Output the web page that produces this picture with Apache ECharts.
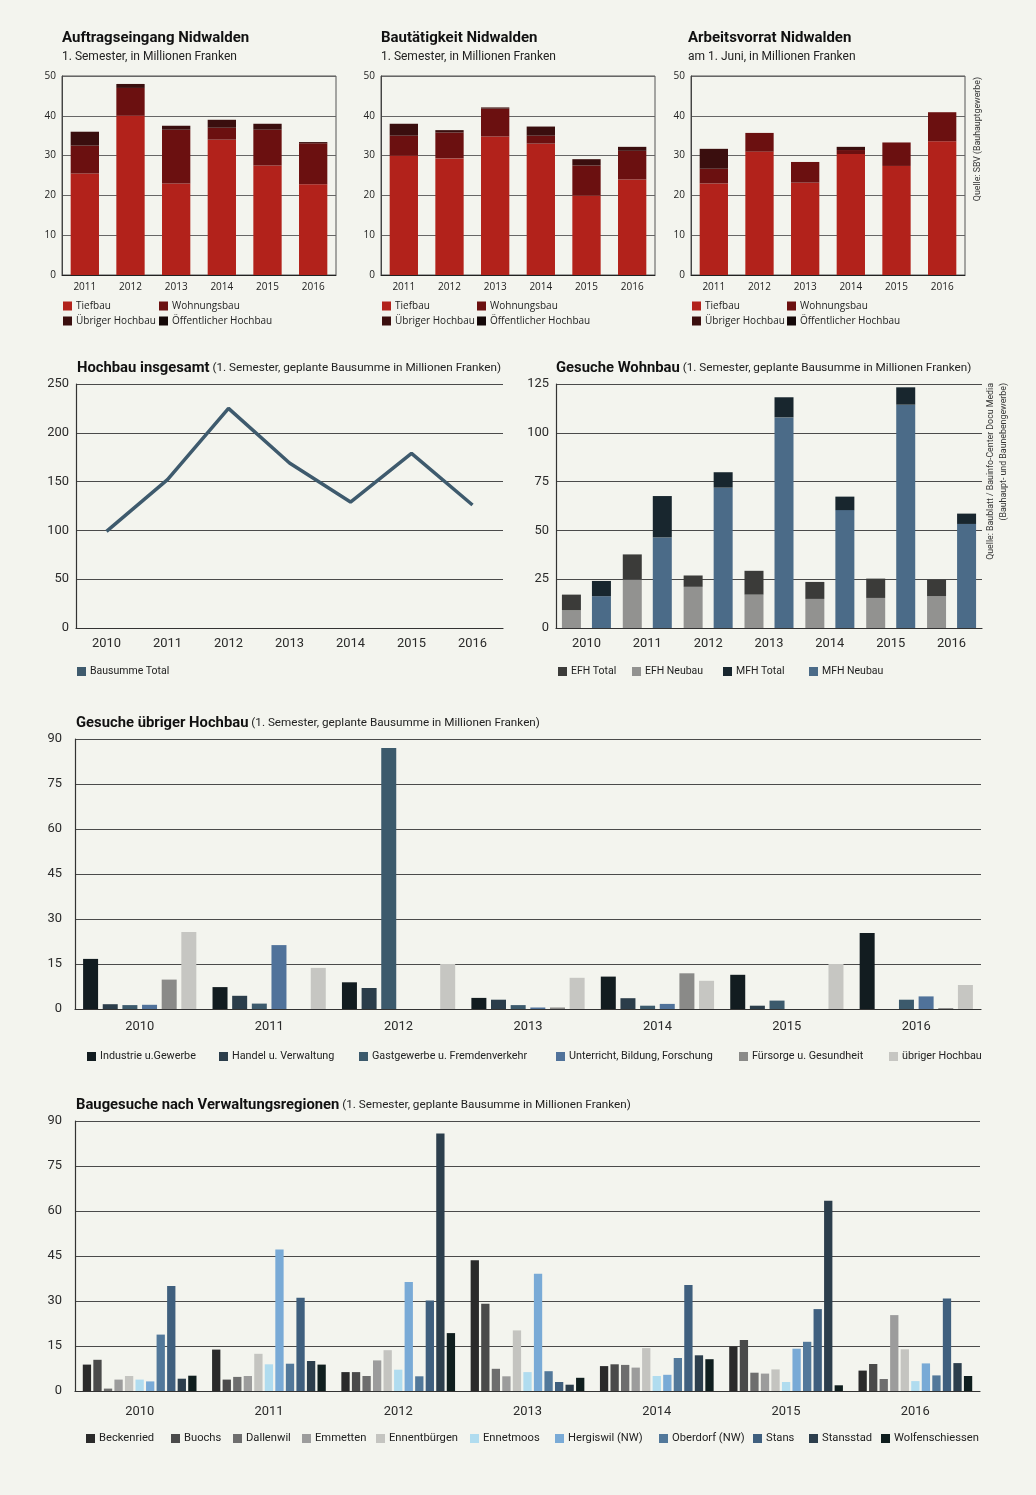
<!DOCTYPE html>
<html>
<head>
<meta charset="utf-8">
<script src="https://cdn.jsdelivr.net/npm/echarts@6/dist/echarts.min.js"></script>
<style>
html,body{margin:0;padding:0;background:#f3f4ee;}
#c{width:1036px;height:1495px;}
</style>
</head>
<body>
<div id="c"></div>
<script>
// ---------- DATA ----------
const topYears = ['2011','2012','2013','2014','2015','2016'];
const topSeriesNames = ['Tiefbau','Wohnungsbau','Übriger Hochbau','Öffentlicher Hochbau'];

const auftragTiefbau = [25.5, 40.0, 23.0, 34.0, 27.5, 22.8];
const auftragWohnungsbau = [7.0, 7.0, 13.5, 3.0, 9.0, 10.3];
const auftragUebrigerHochbau = [3.5, 1.0, 1.0, 2.0, 1.5, 0.3];
const auftragOeffentlicherHochbau = [0, 0, 0, 0, 0, 0];

const bauTiefbau = [30.0, 29.3, 34.8, 33.0, 20.0, 24.0];
const bauWohnungsbau = [5.0, 6.5, 7.0, 2.0, 7.5, 7.2];
const bauUebrigerHochbau = [3.0, 0.6, 0.3, 2.3, 1.6, 1.0];
const bauOeffentlicherHochbau = [0, 0, 0, 0, 0, 0];

const vorratTiefbau = [23.0, 31.0, 23.2, 30.4, 27.4, 33.6];
const vorratWohnungsbau = [3.7, 4.7, 5.2, 1.0, 5.9, 7.3];
const vorratUebrigerHochbau = [5.0, 0, 0, 0.8, 0, 0];
const vorratOeffentlicherHochbau = [0, 0, 0, 0, 0, 0];

const years = ['2010','2011','2012','2013','2014','2015','2016'];
const hochbauTotal = [99, 152, 225, 169, 129, 179, 126];

const efhTotal = [17.1, 37.7, 26.9, 29.3, 23.6, 25.3, 24.7];
const efhNeubau = [9.1, 24.8, 21.1, 17.1, 14.9, 15.4, 16.3];
const mfhTotal = [24.1, 67.6, 79.8, 118.2, 67.3, 123.3, 58.6];
const mfhNeubau = [16.3, 46.4, 71.9, 107.9, 60.4, 114.4, 53.3];

const hbNames = ['Industrie u.Gewerbe','Handel u. Verwaltung','Gastgewerbe u. Fremdenverkehr','Unterricht, Bildung, Forschung','Fürsorge u. Gesundheit','übriger Hochbau'];
const hbIndustrie = [16.7, 7.3, 8.9, 3.7, 10.8, 11.4, 25.3];
const hbHandel = [1.6, 4.4, 7.0, 3.1, 3.6, 1.1, 0];
const hbGastgewerbe = [1.3, 1.8, 87.0, 1.3, 1.1, 2.8, 3.1];
const hbUnterricht = [1.4, 21.3, 0, 0.5, 1.7, 0, 4.2];
const hbFuersorge = [9.8, 0, 0, 0.5, 11.9, 0, 0.3];
const hbUebriger = [25.7, 13.7, 15.0, 10.4, 9.4, 15.0, 8.0];

const regionNames = ['Beckenried','Buochs','Dallenwil','Emmetten','Ennentbürgen','Ennetmoos','Hergiswil (NW)','Oberdorf (NW)','Stans','Stansstad','Wolfenschiessen'];
const rgBeckenried = [8.8, 13.8, 6.3, 43.6, 8.3, 14.8, 6.8];
const rgBuochs = [10.4, 3.8, 6.3, 29.1, 8.9, 17.0, 9.0];
const rgDallenwil = [0.8, 4.7, 5.0, 7.4, 8.7, 6.1, 4.0];
const rgEmmetten = [3.8, 5.0, 10.2, 4.9, 7.8, 5.8, 25.3];
const rgEnnentbuergen = [5.0, 12.4, 13.6, 20.2, 14.3, 7.2, 13.9];
const rgEnnetmoos = [3.8, 8.9, 7.1, 6.3, 5.0, 3.0, 3.3];
const rgHergiswil = [3.2, 47.2, 36.3, 39.1, 5.4, 14.1, 9.2];
const rgOberdorf = [18.8, 9.1, 4.9, 6.6, 11.0, 16.4, 5.2];
const rgStans = [35.0, 31.1, 30.2, 3.0, 35.3, 27.3, 30.8];
const rgStansstad = [4.1, 10.0, 85.8, 2.1, 11.9, 63.4, 9.3];
const rgWolfenschiessen = [5.1, 8.8, 19.3, 4.4, 10.6, 1.9, 5.0];

// ---------- STYLE ----------
const NAR = "Roboto, 'Liberation Sans', sans-serif";
const REG = "'Open Sans','Noto Sans',sans-serif";
const topColors = ['#b2221b','#6b1010','#3a0e0e','#140808'];
const hbColors = ['#121c20','#2b3d4a','#3c5a6c','#50729a','#8a8a88','#c6c6c2'];
const rgColors = ['#2a2a2a','#4a4a4a','#6e6e6e','#9c9c9c','#c4c4c0','#b0dcef','#79aad6','#52789a','#3f5f7e','#2c3e4c','#0f1e1e'];

// font sizes fitted to the measured widths of sample strings in the reference
const mctx = document.createElement('canvas').getContext('2d');
function fit(text, weight, target, family){
  mctx.font = weight + ' 100px ' + family;
  return Math.round(100 * target / mctx.measureText(text).width * 10) / 10;
}
const S_TOPTITLE = fit('Auftragseingang Nidwalden', 'bold', 187, NAR);
const S_TOPSUB = fit('1. Semester, in Millionen Franken', 'normal', 175, NAR);
const S_BOLD = fit('Hochbau insgesamt', 'bold', 133, NAR);
const S_SUB = fit('(1. Semester, geplante Bausumme in Millionen Franken)', 'normal', 288, NAR);
const S_AXIS = fit('2010', 'normal', 29, NAR);
const S_LEGF = fit('Industrie u.Gewerbe', 'normal', 96, NAR);
const S_LEGG = fit('Beckenried', 'normal', 55, NAR);
const S_LEGE = fit('EFH Neubau', 'normal', 58, NAR);
const S_SRC = fit('Quelle: Baublatt / Bauinfo-Center Docu Media', 'normal', 177, NAR);

const grids=[], xAxes=[], yAxes=[], series=[], titles=[], legends=[], graphics=[];

function titleText(left, cy, bold, normal, bsize, nsize){
  titles.push({
    left:left, top:cy - 10, padding:0,
    text: normal ? '{b|'+bold+'}{n| '+normal+'}' : '{b|'+bold+'}',
    textStyle:{rich:{
      b:{fontFamily:NAR,fontWeight:'bold',fontSize:bsize,color:'#111',lineHeight:20},
      n:{fontFamily:NAR,fontWeight:'normal',fontSize:nsize,color:'#222',lineHeight:20}
    }}
  });
}
function plainText(left, cy, txt, size){
  titles.push({left:left, top:cy-9, padding:0, text:txt,
    textStyle:{fontFamily:NAR,fontWeight:'normal',fontSize:size,color:'#222',lineHeight:18}});
}
function legendItem(name, left, cy, font, size){
  legends.push({
    left:left, top:cy-7, padding:0, itemGap:0, itemWidth:9, itemHeight:9,
    icon:'rect', selectedMode:false,
    data:[{name:name, icon:'rect'}],
    textStyle:{fontFamily:font, fontSize:size, color:'#222', padding:[0,0,0,-1]}
  });
}

// ---------- TOP CHARTS ----------
const topCharts = [
  {left:62, tl:62, title:'Auftragseingang Nidwalden', sub:'1. Semester, in Millionen Franken',
   data:[auftragTiefbau, auftragWohnungsbau, auftragUebrigerHochbau, auftragOeffentlicherHochbau], lg:[63,159]},
  {left:381, tl:381, title:'Bautätigkeit Nidwalden', sub:'1. Semester, in Millionen Franken',
   data:[bauTiefbau, bauWohnungsbau, bauUebrigerHochbau, bauOeffentlicherHochbau], lg:[382,477]},
  {left:691, tl:688, title:'Arbeitsvorrat Nidwalden', sub:'am 1. Juni, in Millionen Franken',
   data:[vorratTiefbau, vorratWohnungsbau, vorratUebrigerHochbau, vorratOeffentlicherHochbau], lg:[692,787]}
];
topCharts.forEach((c, i) => {
  const gi = grids.length;
  grids.push({left:c.left, top:76, width:274, height:199, show:true, borderColor:'#555', borderWidth:1, backgroundColor:'transparent', outerBoundsMode:'none', containLabel:false});
  xAxes.push({type:'category', gridIndex:gi, data:topYears,
    axisTick:{show:false}, axisLine:{lineStyle:{color:'#222',width:1}},
    axisLabel:{fontFamily:REG, fontSize:10, color:'#222', margin:7}});
  yAxes.push({type:'value', gridIndex:gi, min:0, max:50, interval:10,
    axisLine:{show:true, lineStyle:{color:'#444'}}, axisTick:{show:false},
    splitLine:{lineStyle:{color:'#666',width:1}},
    axisLabel:{fontFamily:REG, fontSize:10, color:'#222', margin:6}});
  topSeriesNames.forEach((n, k) => {
    series.push({type:'bar', name:n, xAxisIndex:gi, yAxisIndex:gi, stack:'top'+i,
      barWidth:'62%', data:c.data[k], itemStyle:{color:topColors[k]}});
  });
  titleText(c.tl, 38, c.title, '', S_TOPTITLE, S_TOPSUB);
  plainText(c.tl, 57, c.sub, S_TOPSUB);
  legendItem('Tiefbau', c.lg[0], 308, REG, 10);
  legendItem('Wohnungsbau', c.lg[1], 308, REG, 10);
  legendItem('Übriger Hochbau', c.lg[0], 323, REG, 10);
  legendItem('Öffentlicher Hochbau', c.lg[1], 323, REG, 10);
});

function midAxes(gi, cats, max, interval, lblMargin, xMargin){
  xAxes.push({type:'category', gridIndex:gi, data:cats,
    axisTick:{show:false}, axisLine:{lineStyle:{color:'#333',width:1.2}},
    axisLabel:{fontFamily:NAR, fontSize:S_AXIS, color:'#2a2a2a', margin:xMargin}});
  yAxes.push({type:'value', gridIndex:gi, min:0, max:max, interval:interval,
    axisLine:{show:true, lineStyle:{color:'#333',width:1.2}}, axisTick:{show:false},
    splitLine:{lineStyle:{color:'#4a4a4a',width:1.2}},
    axisLabel:{fontFamily:NAR, fontSize:S_AXIS, color:'#2a2a2a', margin:lblMargin}});
}

// ---------- HOCHBAU INSGESAMT ----------
{
  const gi = grids.length;
  grids.push({left:76, top:384, width:427, height:244, outerBoundsMode:'none', containLabel:false});
  midAxes(gi, years, 250, 50, 7, 9);
  series.push({type:'line', name:'Bausumme Total', xAxisIndex:gi, yAxisIndex:gi,
    data:hochbauTotal, symbol:'none', lineStyle:{color:'#3e5a6d', width:3.5}, itemStyle:{color:'#3e5a6d'}});
  titleText(77, 368, 'Hochbau insgesamt', '(1. Semester, geplante Bausumme in Millionen Franken)', S_BOLD, S_SUB);
  legendItem('Bausumme Total', 77, 673, NAR, S_LEGE);
}

// ---------- GESUCHE WOHNBAU ----------
{
  const gi = grids.length;
  grids.push({left:556, top:384, width:426, height:244, outerBoundsMode:'none', containLabel:false});
  midAxes(gi, years, 125, 25, 7, 9);
  const efhRest = efhTotal.map((t, i) => +(t - efhNeubau[i]).toFixed(1));
  const mfhRest = mfhTotal.map((t, i) => +(t - mfhNeubau[i]).toFixed(1));
  series.push({type:'bar', name:'EFH Neubau', xAxisIndex:gi, yAxisIndex:gi, stack:'efh', barWidth:19, barGap:'58%', data:efhNeubau, itemStyle:{color:'#929290'}});
  series.push({type:'bar', name:'EFH Total', xAxisIndex:gi, yAxisIndex:gi, stack:'efh', barWidth:19, barGap:'58%', data:efhRest, itemStyle:{color:'#3b3b39'}});
  series.push({type:'bar', name:'MFH Neubau', xAxisIndex:gi, yAxisIndex:gi, stack:'mfh', barWidth:19, barGap:'58%', data:mfhNeubau, itemStyle:{color:'#4b6b88'}});
  series.push({type:'bar', name:'MFH Total', xAxisIndex:gi, yAxisIndex:gi, stack:'mfh', barWidth:19, barGap:'58%', data:mfhRest, itemStyle:{color:'#18262e'}});
  titleText(556, 368, 'Gesuche Wohnbau', '(1. Semester, geplante Bausumme in Millionen Franken)', S_BOLD, S_SUB);
  legendItem('EFH Total', 558, 673, NAR, S_LEGE);
  legendItem('EFH Neubau', 632, 673, NAR, S_LEGE);
  legendItem('MFH Total', 723, 673, NAR, S_LEGE);
  legendItem('MFH Neubau', 809, 673, NAR, S_LEGE);
}

// ---------- GESUCHE ÜBRIGER HOCHBAU ----------
{
  const gi = grids.length;
  grids.push({left:75, top:739, width:906, height:270, outerBoundsMode:'none', containLabel:false});
  midAxes(gi, years, 90, 15, 13, 11);
  const hbData = [hbIndustrie, hbHandel, hbGastgewerbe, hbUnterricht, hbFuersorge, hbUebriger];
  hbNames.forEach((n, k) => {
    series.push({type:'bar', name:n, xAxisIndex:gi, yAxisIndex:gi, barWidth:15, barGap:'31%',
      data:hbData[k], itemStyle:{color:hbColors[k]}});
  });
  titleText(76, 723, 'Gesuche übriger Hochbau', '(1. Semester, geplante Bausumme in Millionen Franken)', S_BOLD, S_SUB);
  const lx = [87, 219, 359, 556, 739, 889];
  hbNames.forEach((n, k) => legendItem(n, lx[k], 1058, NAR, S_LEGF));
}

// ---------- BAUGESUCHE NACH VERWALTUNGSREGIONEN ----------
{
  const gi = grids.length;
  grids.push({left:75, top:1121, width:905, height:270, outerBoundsMode:'none', containLabel:false});
  midAxes(gi, years, 90, 15, 13, 14);
  const rgData = [rgBeckenried, rgBuochs, rgDallenwil, rgEmmetten, rgEnnentbuergen, rgEnnetmoos, rgHergiswil, rgOberdorf, rgStans, rgStansstad, rgWolfenschiessen];
  regionNames.forEach((n, k) => {
    series.push({type:'bar', name:n, xAxisIndex:gi, yAxisIndex:gi, barWidth:8.3, barGap:'27%',
      data:rgData[k], itemStyle:{color:rgColors[k]}});
  });
  titleText(76, 1105, 'Baugesuche nach Verwaltungsregionen', '(1. Semester, geplante Bausumme in Millionen Franken)', S_BOLD, S_SUB);
  const lx = [86, 171, 233, 302, 376, 470, 555, 659, 753, 809, 881];
  regionNames.forEach((n, k) => legendItem(n, lx[k], 1440, NAR, S_LEGG));
}

// ---------- SOURCES (vertical) ----------
graphics.push({type:'text', x:978, y:77, rotation:Math.PI/2,
  style:{text:'Quelle: SBV (Bauhauptgewerbe)', fill:'#333', font:S_SRC+"px "+NAR, align:'right', verticalAlign:'middle'}});
graphics.push({type:'text', x:991, y:383, rotation:Math.PI/2,
  style:{text:'Quelle: Baublatt / Bauinfo-Center Docu Media', fill:'#333', font:S_SRC+"px "+NAR, align:'right', verticalAlign:'middle'}});
graphics.push({type:'text', x:1004, y:383, rotation:Math.PI/2,
  style:{text:'(Bauhaupt- und Baunebengewerbe)', fill:'#333', font:S_SRC+"px "+NAR, align:'right', verticalAlign:'middle'}});

const chart = echarts.init(document.getElementById('c'), null, {renderer:'canvas'});
chart.setOption({
  backgroundColor:'#f3f4ee',
  animation:false,
  title:titles, legend:legends, grid:grids, xAxis:xAxes, yAxis:yAxes, series:series,
  graphic:graphics
});
</script>
</body>
</html>
